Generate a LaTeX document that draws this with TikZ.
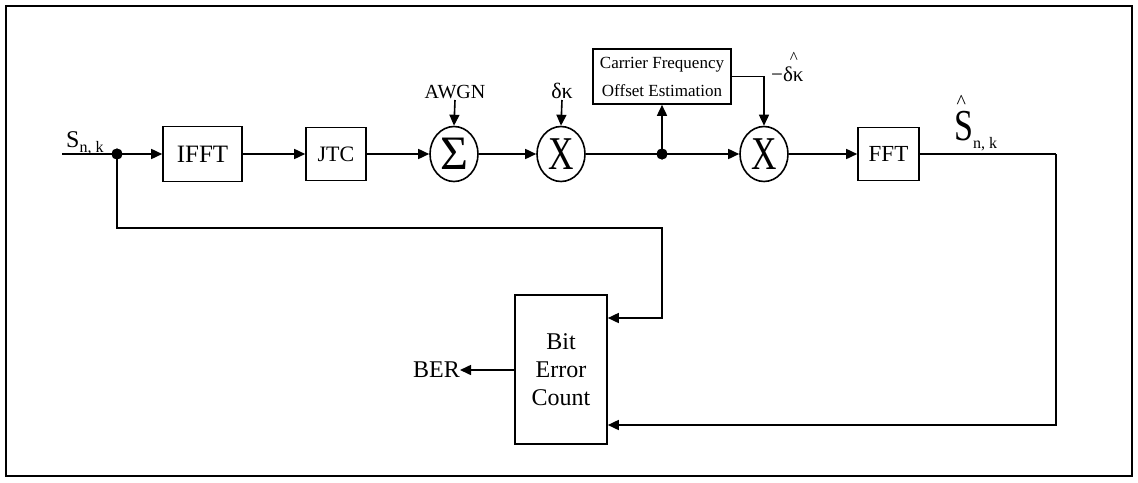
\documentclass[tikz,border=0pt]{standalone}
\usepackage{fontspec}
\setmainfont{Liberation Serif}
\usetikzlibrary{arrows.meta,shapes.geometric,calc}
\newcommand\myfs[2]{\fontsize{#1}{#2}\selectfont}
\newcommand\ctr[1]{\makebox[0pt]{\raisebox{-.5\height}[0pt][0pt]{#1}}}
\begin{document}
\begin{tikzpicture}[x=1pt,y=-1pt,
  ln/.style={line width=1.6pt},
  arr/.style={ln,-{Triangle[length=11pt,width=10pt]}},
  blk/.style={draw,line width=1.6pt,inner sep=0pt},
  opn/.style={draw,ellipse,line width=1.6pt,inner sep=0pt,minimum width=48pt,minimum height=55pt},
  dotn/.style={circle,fill=black,inner sep=0pt,minimum size=11pt},
  lbl/.style={inner sep=0pt}]
\useasboundingbox (0,0) rectangle (1138,482);
\draw[line width=2.5pt] (6,6) rectangle (1132,476);
% blocks
\node[blk,minimum width=79pt,minimum height=55pt,font=\myfs{25}{25}] (ifft) at (202.5,154) {IFFT};
\node[blk,minimum width=60pt,minimum height=53pt,font=\myfs{22}{22}] (jtc) at (336,154) {JTC};
\node[opn] (sum) at (454,154) {\ctr{\myfs{48}{48}Σ}};
\node[opn] (m1) at (561,154) {\ctr{\scalebox{0.75}[1]{\myfs{47}{47}X}}};
\node[opn] (m2) at (764,154) {\ctr{\scalebox{0.75}[1]{\myfs{47}{47}X}}};
\node[blk,minimum width=61pt,minimum height=53pt,font=\myfs{23}{23}] (fft) at (888.5,154) {FFT};
\node[blk,minimum width=138pt,minimum height=55pt,align=center,font=\myfs{17}{28}] (cfo) at (662,76.5) {Carrier Frequency\\Offset Estimation};
\node[blk,minimum width=92pt,minimum height=149pt,align=center,font=\myfs{24}{28}] (bec) at (561,369.5) {Bit\\Error\\Count};
\node[dotn] (dot1) at (117,154) {};
\node[dotn] (dot2) at (662,154) {};
% labels
\node[lbl,anchor=base west] (sin) at (66,147) {\myfs{24}{24}S\raisebox{-5pt}{\myfs{16}{16}n, k}};
\node[lbl,anchor=base west] (sout) at (954,140) {\rlap{\hspace{2.5pt}\raisebox{32pt}{\myfs{20}{20}\textasciicircum}}\scalebox{1}[1.3]{\myfs{34}{34}S}\raisebox{-8pt}{\myfs{16}{16}n, k}};
\node[lbl,anchor=south,font=\myfs{20}{20}] (awgn) at (455,99) {AWGN};
\node[lbl,anchor=south,font=\myfs{22}{22}] (dk) at (562,99) {δκ};
\node[lbl,anchor=base west,font=\myfs{21}{21}] (mdk) at (771,81) {−δ\rlap{\hspace{-3pt}\raisebox{18pt}{\myfs{17}{17}\textasciicircum}}κ};
\node[lbl,anchor=east,font=\myfs{24}{24}] (ber) at (460,370) {BER};
% coordinates
\coordinate (in) at (62,154);
\coordinate (fbA) at (662,228);
\coordinate (fbB) at (662,318);
\coordinate (fbC) at (1056,154);
\coordinate (fbD) at (1056,425);
\coordinate (awgnin) at (455,100);
\coordinate (dkin) at (562,100);
% connectors
\draw[ln] (in) -- (dot1.center);
\draw[arr] (dot1.center) -- (ifft.west);
\draw[arr] (ifft.east) -- (jtc.west);
\draw[arr] (jtc.east) -- (sum.west);
\draw[arr] (sum.east) -- (m1.west);
\draw[ln] (m1.east) -- (dot2.center);
\draw[arr] (dot2.center) -- (m2.west);
\draw[arr] (dot2.center) -- (cfo.south);
\draw[arr] (cfo.east) -| (m2.north);
\draw[arr] (m2.east) -- (fft.west);
\draw[arr] (awgnin) -- (sum.north);
\draw[arr] (dkin) -- (m1.north);
\draw[ln] (fft.east) -- (fbC);
\draw[arr] (fbC) -- (fbD) -- (bec.east |- fbD);
\draw[arr] (dot1.center) |- (fbA) -- (fbB) -- (bec.east |- fbB);
\draw[arr] (bec.west |- ber.east) -- (ber.east);
\node[dotn] at (dot1) {};
\node[dotn] at (dot2) {};
\end{tikzpicture}
\end{document}
